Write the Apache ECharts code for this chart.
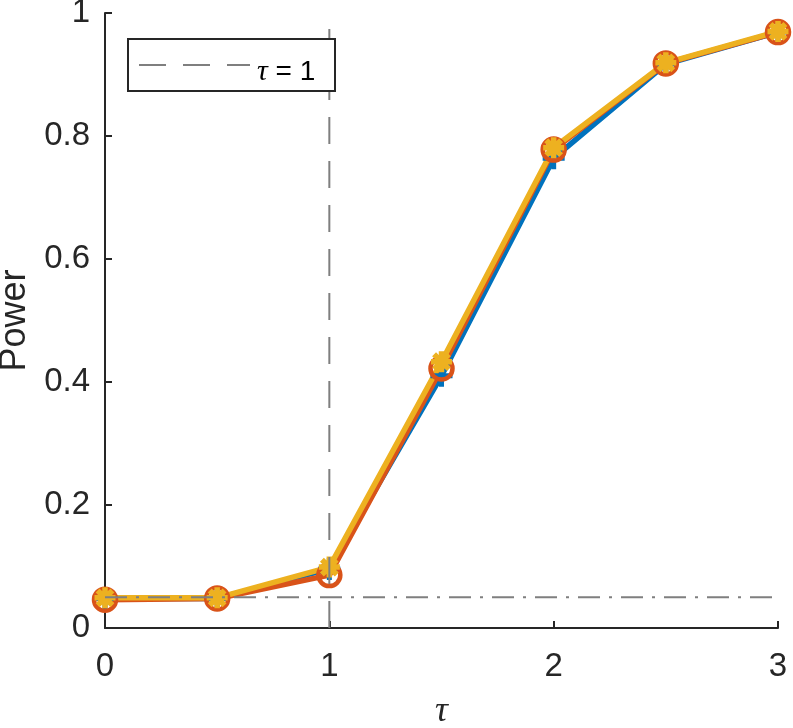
<!DOCTYPE html>
<html>
<head>
<meta charset="utf-8">
<script src="https://cdn.jsdelivr.net/npm/echarts@6/dist/echarts.min.js"></script>
<style>
html,body{margin:0;padding:0;background:#fff;}
#chart{width:793px;height:728px;}
</style>
</head>
<body>
<div id="chart"></div>
<script>
// ---- data ----
var tauValues = [0, 0.5, 1, 1.5, 2, 2.5, 3];
var powerBlue = [0.048, 0.048, 0.096, 0.410, 0.764, 0.917, 0.969];
var powerRed = [0.046, 0.048, 0.086, 0.422, 0.778, 0.918, 0.969];
var powerYellow = [0.049, 0.049, 0.099, 0.433, 0.781, 0.919, 0.970];
var tauThreshold = 1;
var alphaLevel = 0.05;
var xTicks = [0, 1, 2, 3];
var yTicks = [0, 0.2, 0.4, 0.6, 0.8, 1];

function pairs(xs, ys) { return xs.map(function (x, i) { return [x, ys[i]]; }); }

var FONT = '"Liberation Sans", Arial, Helvetica, sans-serif';
var AX = '#262626';
var GRAY = '#7f7f7f';

var plusPath = 'path://M0,-10L0,10M-10,0L10,0';
var starPath = 'path://M0,-10L0,10M-10,0L10,0M-7.07,-7.07L7.07,7.07M-7.07,7.07L7.07,-7.07';

function seriesLine(name, data, color, symbol, size, bw) {
  return {
    name: name, type: 'line', data: pairs(tauValues, data),
    symbol: symbol, symbolSize: size, showSymbol: true,
    lineStyle: { color: color, width: 5.5 },
    itemStyle: { color: 'rgba(0,0,0,0)', borderColor: color, borderWidth: bw },
    emphasis: { disabled: true }, animation: false, silent: true
  };
}

var chart = echarts.init(document.getElementById('chart'), null, { renderer: 'canvas' });
chart.setOption({
  backgroundColor: '#fff',
  animation: false,
  grid: { left: 105, right: 15, top: 13, bottom: 100, containLabel: false, outerBoundsMode: 'none' },
  xAxis: {
    type: 'value', min: 0, max: 3, interval: 1,
    name: 'τ', nameLocation: 'middle', nameGap: 66,
    nameTextStyle: { fontFamily: '"Liberation Serif", "DejaVu Serif", serif', fontStyle: 'italic', fontSize: 36, color: AX },
    axisLine: { show: true, lineStyle: { color: AX, width: 2 } },
    axisTick: { show: true, inside: true, length: 7, lineStyle: { color: AX, width: 2 } },
    axisLabel: { fontFamily: FONT, fontSize: 33, color: AX, margin: 22 },
    splitLine: { show: false }
  },
  yAxis: {
    type: 'value', min: 0, max: 1, interval: 0.2,
    name: 'Power', nameLocation: 'middle', nameGap: 72, nameRotate: 90,
    nameTextStyle: { fontFamily: FONT, fontSize: 36, color: AX },
    axisLine: { show: true, lineStyle: { color: AX, width: 2 } },
    axisTick: { show: true, inside: true, length: 7, lineStyle: { color: AX, width: 2 } },
    axisLabel: { fontFamily: FONT, fontSize: 33, color: AX, margin: 15 },
    splitLine: { show: false }
  },
  series: [
    seriesLine('blue', powerBlue, '#0072BD', plusPath, 22, 5),
    seriesLine('red', powerRed, '#D95319', 'circle', 22, 4.5),
    seriesLine('yellow', powerYellow, '#EDB120', starPath, 21, 5.5),
    {
      type: 'line', data: [[tauValues[0], alphaLevel], [tauValues[tauValues.length - 1], alphaLevel]],
      symbol: 'none', z: 10, silent: true,
      lineStyle: { color: GRAY, width: 2, type: [22, 9, 3, 9] }
    },
    {
      type: 'line', data: [[tauThreshold, yTicks[0]], [tauThreshold, yTicks[yTicks.length - 1]]],
      symbol: 'none', z: 10, silent: true,
      lineStyle: { color: GRAY, width: 2, type: [27, 17] }
    }
  ],
  graphic: [
    { type: 'rect', z: 100, shape: { x: 128, y: 39, width: 207, height: 52 },
      style: { fill: '#fff', stroke: AX, lineWidth: 2 } },
    { type: 'line', z: 101, shape: { x1: 139, y1: 65, x2: 250, y2: 65 },
      style: { stroke: GRAY, lineWidth: 2, lineDash: [27, 17] } },
    { type: 'text', z: 101, x: 257, y: 72,
      style: {
        text: '{t|τ} = 1', verticalAlign: 'middle', align: 'left',
        fontFamily: FONT, fontSize: 28, fill: '#000',
        rich: { t: { fontFamily: '"Liberation Serif", "DejaVu Serif", serif', fontStyle: 'italic', fontSize: 30, fill: '#000' } }
      } }
  ]
});
</script>
</body>
</html>
